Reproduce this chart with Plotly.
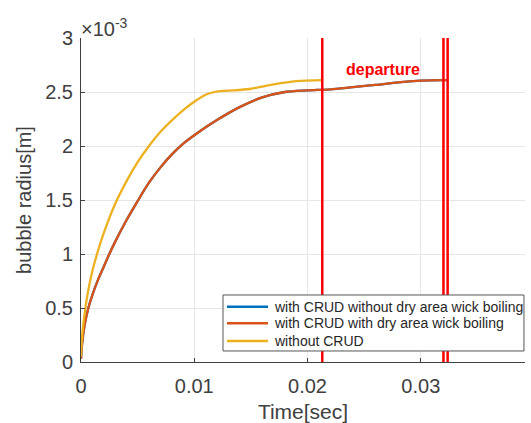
import plotly.graph_objects as go

# Data (radius in units of 1e-3 m)
t_orange = [0, 0.0001, 0.0003, 0.00065, 0.001, 0.0015, 0.002, 0.0025, 0.003, 0.004, 0.005,
            0.006, 0.007, 0.008, 0.009, 0.010, 0.012, 0.014, 0.016, 0.018, 0.020, 0.022,
            0.024, 0.026, 0.028, 0.030, 0.032, 0.0323]
r_orange = [0.03, 0.17, 0.33, 0.50, 0.62, 0.76, 0.88, 1.00, 1.11, 1.31, 1.49,
            1.66, 1.80, 1.92, 2.02, 2.10, 2.24, 2.36, 2.45, 2.50, 2.515, 2.525,
            2.545, 2.565, 2.59, 2.605, 2.61, 2.61]
t_blue = list(t_orange)
r_blue = list(r_orange)
t_yellow = [0, 0.0001, 0.0003, 0.0006, 0.001, 0.0015, 0.002, 0.003, 0.004, 0.005, 0.006,
            0.007, 0.008, 0.009, 0.010, 0.011, 0.0118, 0.0125, 0.0135, 0.015, 0.017,
            0.019, 0.0213]
r_yellow = [0.05, 0.24, 0.43, 0.64, 0.84, 1.03, 1.19, 1.46, 1.67, 1.85, 2.00,
            2.13, 2.235, 2.33, 2.41, 2.475, 2.50, 2.51, 2.515, 2.53, 2.57,
            2.60, 2.61]
departure_times = [0.0213, 0.0320, 0.03237]
departure_label_pos = (0.02665, 2.713)

series_names = ["with CRUD without dry area wick boiling",
                "with CRUD with dry area wick boiling",
                "without CRUD"]
colors = ["#0072BD", "#D95319", "#EDB120"]

x_ticks = [0, 0.01, 0.02, 0.03]
x_ticktext = ["0", "0.01", "0.02", "0.03"]
y_ticks = [0, 0.5, 1, 1.5, 2, 2.5, 3]
y_ticktext = ["0", "0.5", "1", "1.5", "2", "2.5", "3"]

font = "Liberation Sans, Arial, sans-serif"
axcol = "#404040"

fig = go.Figure()
for t, r, name, c in zip([t_blue, t_orange, t_yellow], [r_blue, r_orange, r_yellow],
                         series_names, colors):
    fig.add_trace(go.Scatter(x=t, y=r, mode="lines", name=name, showlegend=False,
                             line=dict(color=c, width=2.3, shape="spline", smoothing=0.8)))

for xd in departure_times:
    fig.add_shape(type="line", x0=xd, x1=xd, y0=0, y1=1, xref="x", yref="paper",
                  line=dict(color="#FF0000", width=2.5))

fig.add_annotation(x=departure_label_pos[0], y=departure_label_pos[1], text="<b>departure</b>",
                   showarrow=False, font=dict(color="#FF0000", size=16, family=font))
fig.add_annotation(x=0, y=1, xref="paper", yref="paper", xanchor="left", yanchor="bottom",
                   yshift=-4, xshift=-2, text="×10<sup>-3</sup>", showarrow=False,
                   font=dict(color=axcol, size=20, family=font))

# Legend box (MATLAB style), drawn in paper coordinates
leg_x0, leg_x1, leg_y0, leg_y1 = 0.3198, 0.9977, 0.034, 0.2068
leg_rows = [0.1707, 0.1194, 0.0648]
leg_line_x = (0.3288, 0.4212)
leg_text_x = 0.4302
fig.add_shape(type="rect", xref="paper", yref="paper", x0=leg_x0, x1=leg_x1,
              y0=leg_y0, y1=leg_y1, fillcolor="white", line=dict(color="#555555", width=1),
              layer="above")
for name, c, ry in zip(series_names, colors, leg_rows):
    fig.add_shape(type="line", xref="paper", yref="paper", x0=leg_line_x[0], x1=leg_line_x[1],
                  y0=ry, y1=ry, line=dict(color=c, width=2.5), layer="above")
    fig.add_annotation(x=leg_text_x, y=ry, xref="paper", yref="paper", xanchor="left",
                       yanchor="middle", text=name, showarrow=False,
                       font=dict(color="#262626", size=14, family=font))

fig.update_layout(
    width=531, height=423,
    margin=dict(l=81, r=6, t=38, b=61),
    paper_bgcolor="white", plot_bgcolor="white",
    font=dict(family=font, size=20, color=axcol),
    showlegend=False,
    xaxis=dict(range=[0, 0.0392], tickvals=x_ticks, ticktext=x_ticktext,
               showgrid=True, gridcolor="#E6E6E6", zeroline=False, automargin=False,
               showline=True, linecolor=axcol, linewidth=1,
               ticks="inside", ticklen=4, tickcolor=axcol, ticklabelstandoff=6,
               title=dict(text="Time[sec]", font=dict(size=21), standoff=14)),
    yaxis=dict(range=[0, 3], tickvals=y_ticks, ticktext=y_ticktext,
               showgrid=True, gridcolor="#E6E6E6", zeroline=False, automargin=False,
               showline=True, linecolor=axcol, linewidth=1,
               ticks="inside", ticklen=4, tickcolor=axcol, ticklabelstandoff=3,
               title=dict(text="bubble radius[m]", font=dict(size=20), standoff=8)),
)

fig.write_html("out.html", config={"displayModeBar": False},
               post_script="document.body.style.margin='0';document.body.style.overflow='hidden';")
